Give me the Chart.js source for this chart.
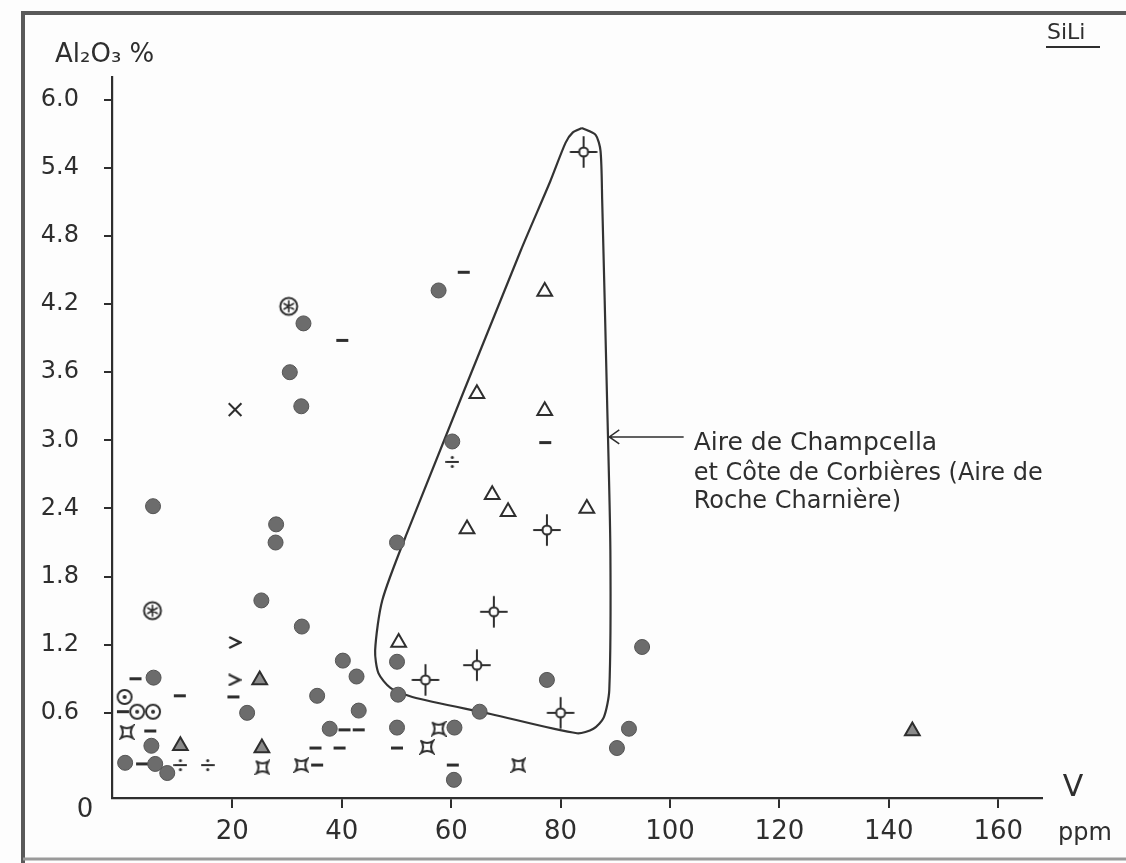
<!DOCTYPE html>
<html><head><meta charset="utf-8">
<script src="https://cdn.jsdelivr.net/npm/chart.js@4.4.1/dist/chart.umd.min.js"></script>
<style>html,body{margin:0;padding:0;background:#fdfdfd;}#wrap{width:1126px;height:863px;position:relative;}canvas{display:block;}</style>
</head><body><div id="wrap"><canvas id="c" width="1126" height="863"></canvas></div>
<script>
// ---- axis ticks ----
const xTickValues = [20, 40, 60, 80, 100, 120, 140, 160];
const yTickValues = [0.6, 1.2, 1.8, 2.4, 3.0, 3.6, 4.2, 4.8, 5.4, 6.0];

// ---- data: [V ppm, Al2O3 %] ----
const filledCircles = [
  [5.5,2.42],[5.6,0.91],[5.2,0.31],[0.4,0.16],[5.9,0.15],[8.1,0.07],[22.7,0.60],[25.3,1.59],
  [28.0,2.26],[27.9,2.10],[30.5,3.60],[33.0,4.03],[32.6,3.30],[32.7,1.36],[35.5,0.75],[37.8,0.46],
  [40.2,1.06],[42.7,0.92],[43.1,0.62],[50.1,1.05],[50.3,0.76],[50.1,0.47],[50.1,2.10],[57.7,4.32],
  [60.2,2.99],[60.6,0.47],[60.5,0.01],[65.2,0.61],[77.5,0.89],[90.3,0.29],[92.5,0.46],[94.9,1.18]
];
const dashes = [
  [2.3,0.90],[10.4,0.75],[20.2,0.74],[0.0,0.61],[5.0,0.44],[3.5,0.15],[35.5,0.14],[35.2,0.29],
  [39.6,0.29],[40.5,0.45],[43.1,0.45],[40.1,3.88],[50.1,0.29],[60.3,0.14],[62.3,4.48],[77.2,2.98]
];
const openTriangles = [
  [50.4,1.22],[64.7,3.41],[77.1,4.31],[77.1,3.26],[67.5,2.52],[70.4,2.37],[84.8,2.40],[62.9,2.22]
];
const shadedTriangles = [[25.0,0.89],[10.5,0.31],[25.4,0.29],[144.3,0.44]];
const crosshairs = [[84.2,5.54],[77.5,2.21],[67.8,1.49],[64.7,1.02],[55.3,0.89],[80.0,0.60]];
const circledStars = [[30.3,4.18],[5.4,1.50]];
const dottedCircles = [[0.3,0.74],[2.6,0.61],[5.5,0.61]];
const concaveSquares = [[0.7,0.43],[25.5,0.12],[32.6,0.14],[55.6,0.30],[57.7,0.46],[72.3,0.14]];
const divisionSigns = [[10.5,0.14],[15.5,0.14],[60.2,2.81]];
const chevrons = [[20.5,1.22],[20.4,0.89]];
const crosses = [[20.5,3.27]];

// outline of "Aire de Champcella" field (data coordinates)
const enclosure = [
  [83.9,5.75],[86.4,5.69],[87.3,5.55],[87.6,5.12],[88.5,3.35],[89.1,2.03],[88.9,0.80],[87.9,0.56],
  [86.0,0.46],[83.0,0.42],[67.2,0.59],[52.9,0.74],[48.9,0.82],[46.7,0.95],[46.1,1.15],[47.4,1.59],
  [51.9,2.18],[72.7,4.67],[78.1,5.28],[80.9,5.62],[82.2,5.71],[83.9,5.75]
];
const arrowFrom = [102.5, 3.03];
const arrowTo = [88.9, 3.03];
const noteLines = ["Aire de Champcella", "et Côte de Corbières (Aire de", "Roche Charnière)"];

const INK = '#2e2e2e';
const FONT = '"DejaVu Sans", sans-serif';

function pts(a){ return a.map(p => ({x:p[0], y:p[1]})); }
function marker(w, h, fn){
  const c = document.createElement('canvas'); c.width = w; c.height = h;
  const g = c.getContext('2d'); g.strokeStyle = INK; g.fillStyle = INK; g.lineWidth = 2; g.lineCap = 'round';
  fn(g, w/2, h/2); return c;
}
const mCross = marker(32, 34, (g,cx,cy) => {
  g.beginPath(); g.arc(cx,cy,4.5,0,Math.PI*2); g.stroke();
  g.beginPath();
  g.moveTo(cx-13,cy); g.lineTo(cx-4.5,cy); g.moveTo(cx+4.5,cy); g.lineTo(cx+13,cy);
  g.moveTo(cx,cy-15); g.lineTo(cx,cy-4.5); g.moveTo(cx,cy+4.5); g.lineTo(cx,cy+15);
  g.stroke();
});
const mStar = marker(22, 22, (g,cx,cy) => {
  g.beginPath(); g.arc(cx,cy,8.5,0,Math.PI*2); g.stroke();
  g.lineWidth = 1.6; g.beginPath();
  for (let k=0;k<3;k++){ const a = Math.PI/2 + k*Math.PI/3; g.moveTo(cx+5.5*Math.cos(a),cy+5.5*Math.sin(a)); g.lineTo(cx-5.5*Math.cos(a),cy-5.5*Math.sin(a)); }
  g.stroke();
});
const mDotCircle = marker(18, 18, (g,cx,cy) => {
  g.beginPath(); g.arc(cx,cy,7,0,Math.PI*2); g.stroke();
  g.beginPath(); g.arc(cx,cy,2,0,Math.PI*2); g.fill();
});
const mSquare = marker(16, 16, (g) => {
  g.beginPath(); g.moveTo(2,2); g.quadraticCurveTo(8,6,14,2); g.quadraticCurveTo(10,8,14,14);
  g.quadraticCurveTo(8,10,2,14); g.quadraticCurveTo(6,8,2,2); g.stroke();
});
const mDiv = marker(14, 14, (g,cx,cy) => {
  g.beginPath(); g.moveTo(1,cy); g.lineTo(13,cy); g.stroke();
  g.beginPath(); g.arc(cx,2.5,1.6,0,Math.PI*2); g.arc(cx,11.5,1.6,0,Math.PI*2); g.fill();
});
const mChev = marker(14, 13, (g) => {
  g.lineWidth = 2.5; g.beginPath(); g.moveTo(2,1.5); g.lineTo(12,6.5); g.lineTo(2,11.5); g.stroke();
});

const sc = (data, extra) => Object.assign({data: pts(data), pointRadius: 6, pointHoverRadius: 6, borderColor: INK, backgroundColor: INK, borderWidth: 2}, extra);

const datasets = [
  sc(filledCircles, {pointStyle:'circle', pointRadius:7.5, backgroundColor:'#6c6c6c', borderColor:'#555', borderWidth:1}),
  sc(dashes, {pointStyle:'line', pointRadius:6, borderWidth:3}),
  sc(openTriangles, {pointStyle:'triangle', pointRadius:8.5, backgroundColor:'rgba(0,0,0,0)'}),
  sc(shadedTriangles, {pointStyle:'triangle', pointRadius:8.5, backgroundColor:'#8a8a8a'}),
  sc(crosshairs, {pointStyle:mCross}),
  sc(circledStars, {pointStyle:mStar}),
  sc(dottedCircles, {pointStyle:mDotCircle}),
  sc(concaveSquares, {pointStyle:mSquare}),
  sc(divisionSigns, {pointStyle:mDiv}),
  sc(chevrons, {pointStyle:mChev}),
  sc(crosses, {pointStyle:'crossRot', pointRadius:9, borderWidth:2}),
  {data: pts(enclosure), showLine:true, pointRadius:0, borderColor:'#333', borderWidth:2.2, tension:0.25, fill:false, order:10}
];

const decor = {
  id: 'decor',
  beforeDraw(chart){
    const ctx = chart.ctx; ctx.save();
    ctx.fillStyle = '#fdfdfd'; ctx.fillRect(0,0,chart.width,chart.height);
    ctx.strokeStyle = '#5a5a5a'; ctx.lineWidth = 4;
    ctx.beginPath(); ctx.moveTo(23,863); ctx.lineTo(23,13); ctx.lineTo(1126,13); ctx.stroke();
    ctx.strokeStyle = '#9a9a9a'; ctx.lineWidth = 3;
    ctx.beginPath(); ctx.moveTo(23,859); ctx.lineTo(1126,859); ctx.stroke();
    ctx.restore();
  },
  afterDatasetsDraw(chart){
    const ctx = chart.ctx, xs = chart.scales.x, ys = chart.scales.y, a = chart.chartArea;
    ctx.save(); ctx.fillStyle = INK; ctx.strokeStyle = INK;
    ctx.font = '26px ' + FONT; ctx.textAlign = 'left'; ctx.textBaseline = 'middle';
    ctx.fillText('Al₂O₃ %', a.left - 57, a.top - 22);
    ctx.font = '30px ' + FONT; ctx.textAlign = 'center';
    ctx.fillText('V', a.right + 31, a.bottom - 10);
    ctx.font = '24px ' + FONT;
    ctx.fillText('ppm', a.right + 43, a.bottom + 36);
    ctx.font = '26px ' + FONT;
    ctx.fillText('0', a.left - 27, a.bottom + 12);
    ctx.font = '22px ' + FONT; ctx.textAlign = 'left';
    ctx.fillText('SiLi', 1047, 33);
    ctx.lineWidth = 2; ctx.beginPath(); ctx.moveTo(1046,47); ctx.lineTo(1100,47); ctx.stroke();
    const fx = xs.getPixelForValue(arrowFrom[0]), fy = ys.getPixelForValue(arrowFrom[1]);
    const tx = xs.getPixelForValue(arrowTo[0]), ty = ys.getPixelForValue(arrowTo[1]);
    ctx.lineWidth = 1.5; ctx.beginPath(); ctx.moveTo(fx,fy); ctx.lineTo(tx,ty);
    ctx.moveTo(tx+10,ty-7); ctx.lineTo(tx,ty); ctx.lineTo(tx+10,ty+7); ctx.stroke();
    ctx.textBaseline = 'alphabetic';
    const offs = [13, 43, 71];
    const sizes = [25, 24, 24];
    noteLines.forEach((t,i) => { ctx.font = sizes[i] + 'px ' + FONT; ctx.fillText(t, fx + 10, fy + offs[i]); });
    ctx.restore();
  }
};

new Chart(document.getElementById('c'), {
  type: 'scatter',
  data: {datasets},
  options: {
    responsive: false, animation: false, events: [],
    layout: {padding: {left: 0, top: 77, right: 84, bottom: 0}},
    plugins: {legend: {display: false}, tooltip: {enabled: false}},
    scales: {
      x: {
        type: 'linear', min: -2, max: 168,
        afterBuildTicks: s => { s.ticks = xTickValues.map(v => ({value: v})); },
        afterFit: s => { s.height = 65; },
        border: {display: true, color: INK, width: 2.2},
        grid: {drawOnChartArea: false, drawTicks: true, tickLength: 10, color: INK, lineWidth: 2},
        ticks: {autoSkip: false, maxRotation: 0, padding: 9, color: INK, font: {family: FONT, size: 26}, callback: v => String(v)}
      },
      y: {
        type: 'linear', min: -0.15, max: 6.2,
        afterBuildTicks: s => { s.ticks = yTickValues.map(v => ({value: v})); },
        afterFit: s => { s.width = 112; },
        border: {display: true, color: INK, width: 2.2},
        grid: {drawOnChartArea: false, drawTicks: true, tickLength: 8, color: INK, lineWidth: 2},
        ticks: {autoSkip: false, padding: 25, color: INK, font: {family: FONT, size: 24}, callback: v => Number(v).toFixed(1)}
      }
    }
  },
  plugins: [decor]
});
</script></body></html>
